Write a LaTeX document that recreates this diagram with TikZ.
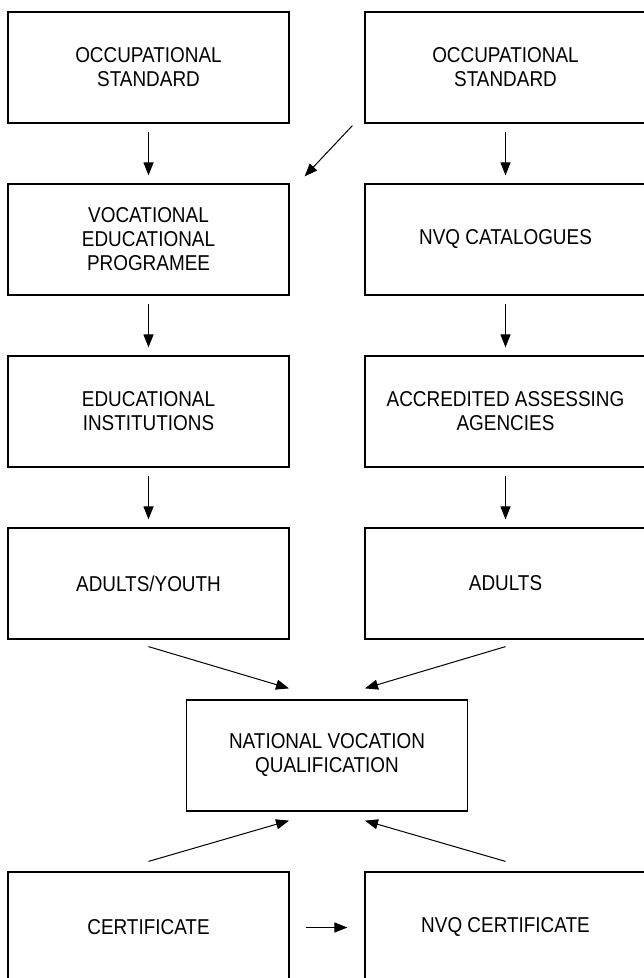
\documentclass[tikz,border=0pt]{standalone}
\usepackage{fontspec}
\setmainfont{Liberation Sans}[FakeStretch=0.88]
\usetikzlibrary{arrows.meta}
\begin{document}
\begin{tikzpicture}[x=1pt,y=-1pt]
			\tikzstyle{boite}=[draw,line width=1.2pt,minimum width=281pt,minimum height=111pt,inner sep=0pt,align=center,font=\fontsize{21.5}{24}\selectfont]
			\tikzstyle{fleche}=[line width=1pt,-{Triangle[length=13pt,width=10pt]}]
			\def\ColonneG{148.5}\def\ColonneD{505.5}\def\ColonneM{327}
			\def\Pas{172}\def\Haut{67.5}
			\useasboundingbox (0,0) rectangle (644,978) ;
			\clip (0,0) rectangle (644,978) ;
			\node[boite] (Ga) at ({\ColonneG},{\Haut+0*\Pas}) {OCCUPATIONAL\\STANDARD};
			\node[boite] (Gb) at ({\ColonneG},{\Haut+1*\Pas}) {VOCATIONAL\\EDUCATIONAL\\PROGRAMEE};
			\node[boite] (Gc) at ({\ColonneG},{\Haut+2*\Pas}) {EDUCATIONAL\\INSTITUTIONS};
			\node[boite] (Gd) at ({\ColonneG},{\Haut+3*\Pas}) {ADULTS/YOUTH};
			\node[boite] (Da) at ({\ColonneD},{\Haut+0*\Pas}) {OCCUPATIONAL\\STANDARD};
			\node[boite] (Db) at ({\ColonneD},{\Haut+1*\Pas}) {NVQ CATALOGUES};
			\node[boite] (Dc) at ({\ColonneD},{\Haut+2*\Pas}) {ACCREDITED ASSESSING\\AGENCIES};
			\node[boite] (Dd) at ({\ColonneD},{\Haut+3*\Pas}) {ADULTS};
			\node[boite] (Q) at ({\ColonneM},{\Haut+4*\Pas}) {NATIONAL VOCATION\\QUALIFICATION};
			\node[boite] (Gf) at ({\ColonneG},{\Haut+5*\Pas}) {CERTIFICATE};
			\node[boite] (Df) at ({\ColonneD},{\Haut+5*\Pas}) {NVQ CERTIFICATE};
			% colonnes
			\draw[fleche,shorten <=8pt,shorten >=8pt] (Ga)--(Gb) ; \draw[fleche,shorten <=8pt,shorten >=8pt] (Gb)--(Gc) ;
			\draw[fleche,shorten <=8pt,shorten >=8pt] (Gc)--(Gd) ; \draw[fleche,shorten <=8pt,shorten >=8pt] (Da)--(Db) ;
			\draw[fleche,shorten <=8pt,shorten >=8pt] (Db)--(Dc) ; \draw[fleche,shorten <=8pt,shorten >=8pt] (Dc)--(Dd) ;
			\draw[fleche] ([xshift=-12pt,yshift=-2pt]Da.south west)--([xshift=15pt,yshift=7pt]Gb.north east) ;
			% vers et depuis la qualification
			\draw[fleche] ([yshift=-7pt]Gd.south)--([xshift=-38pt,yshift=11pt]Q.north) ;
			\draw[fleche] ([yshift=-7pt]Dd.south)--([xshift=38pt,yshift=11pt]Q.north) ;
			\draw[fleche] ([yshift=10pt]Gf.north)--([xshift=-38pt,yshift=-9pt]Q.south) ;
			\draw[fleche] ([yshift=10pt]Df.north)--([xshift=38pt,yshift=-9pt]Q.south) ;
			\draw[fleche,shorten <=16pt,shorten >=17pt] (Gf)--(Df) ;
		\end{tikzpicture}
\end{document}
